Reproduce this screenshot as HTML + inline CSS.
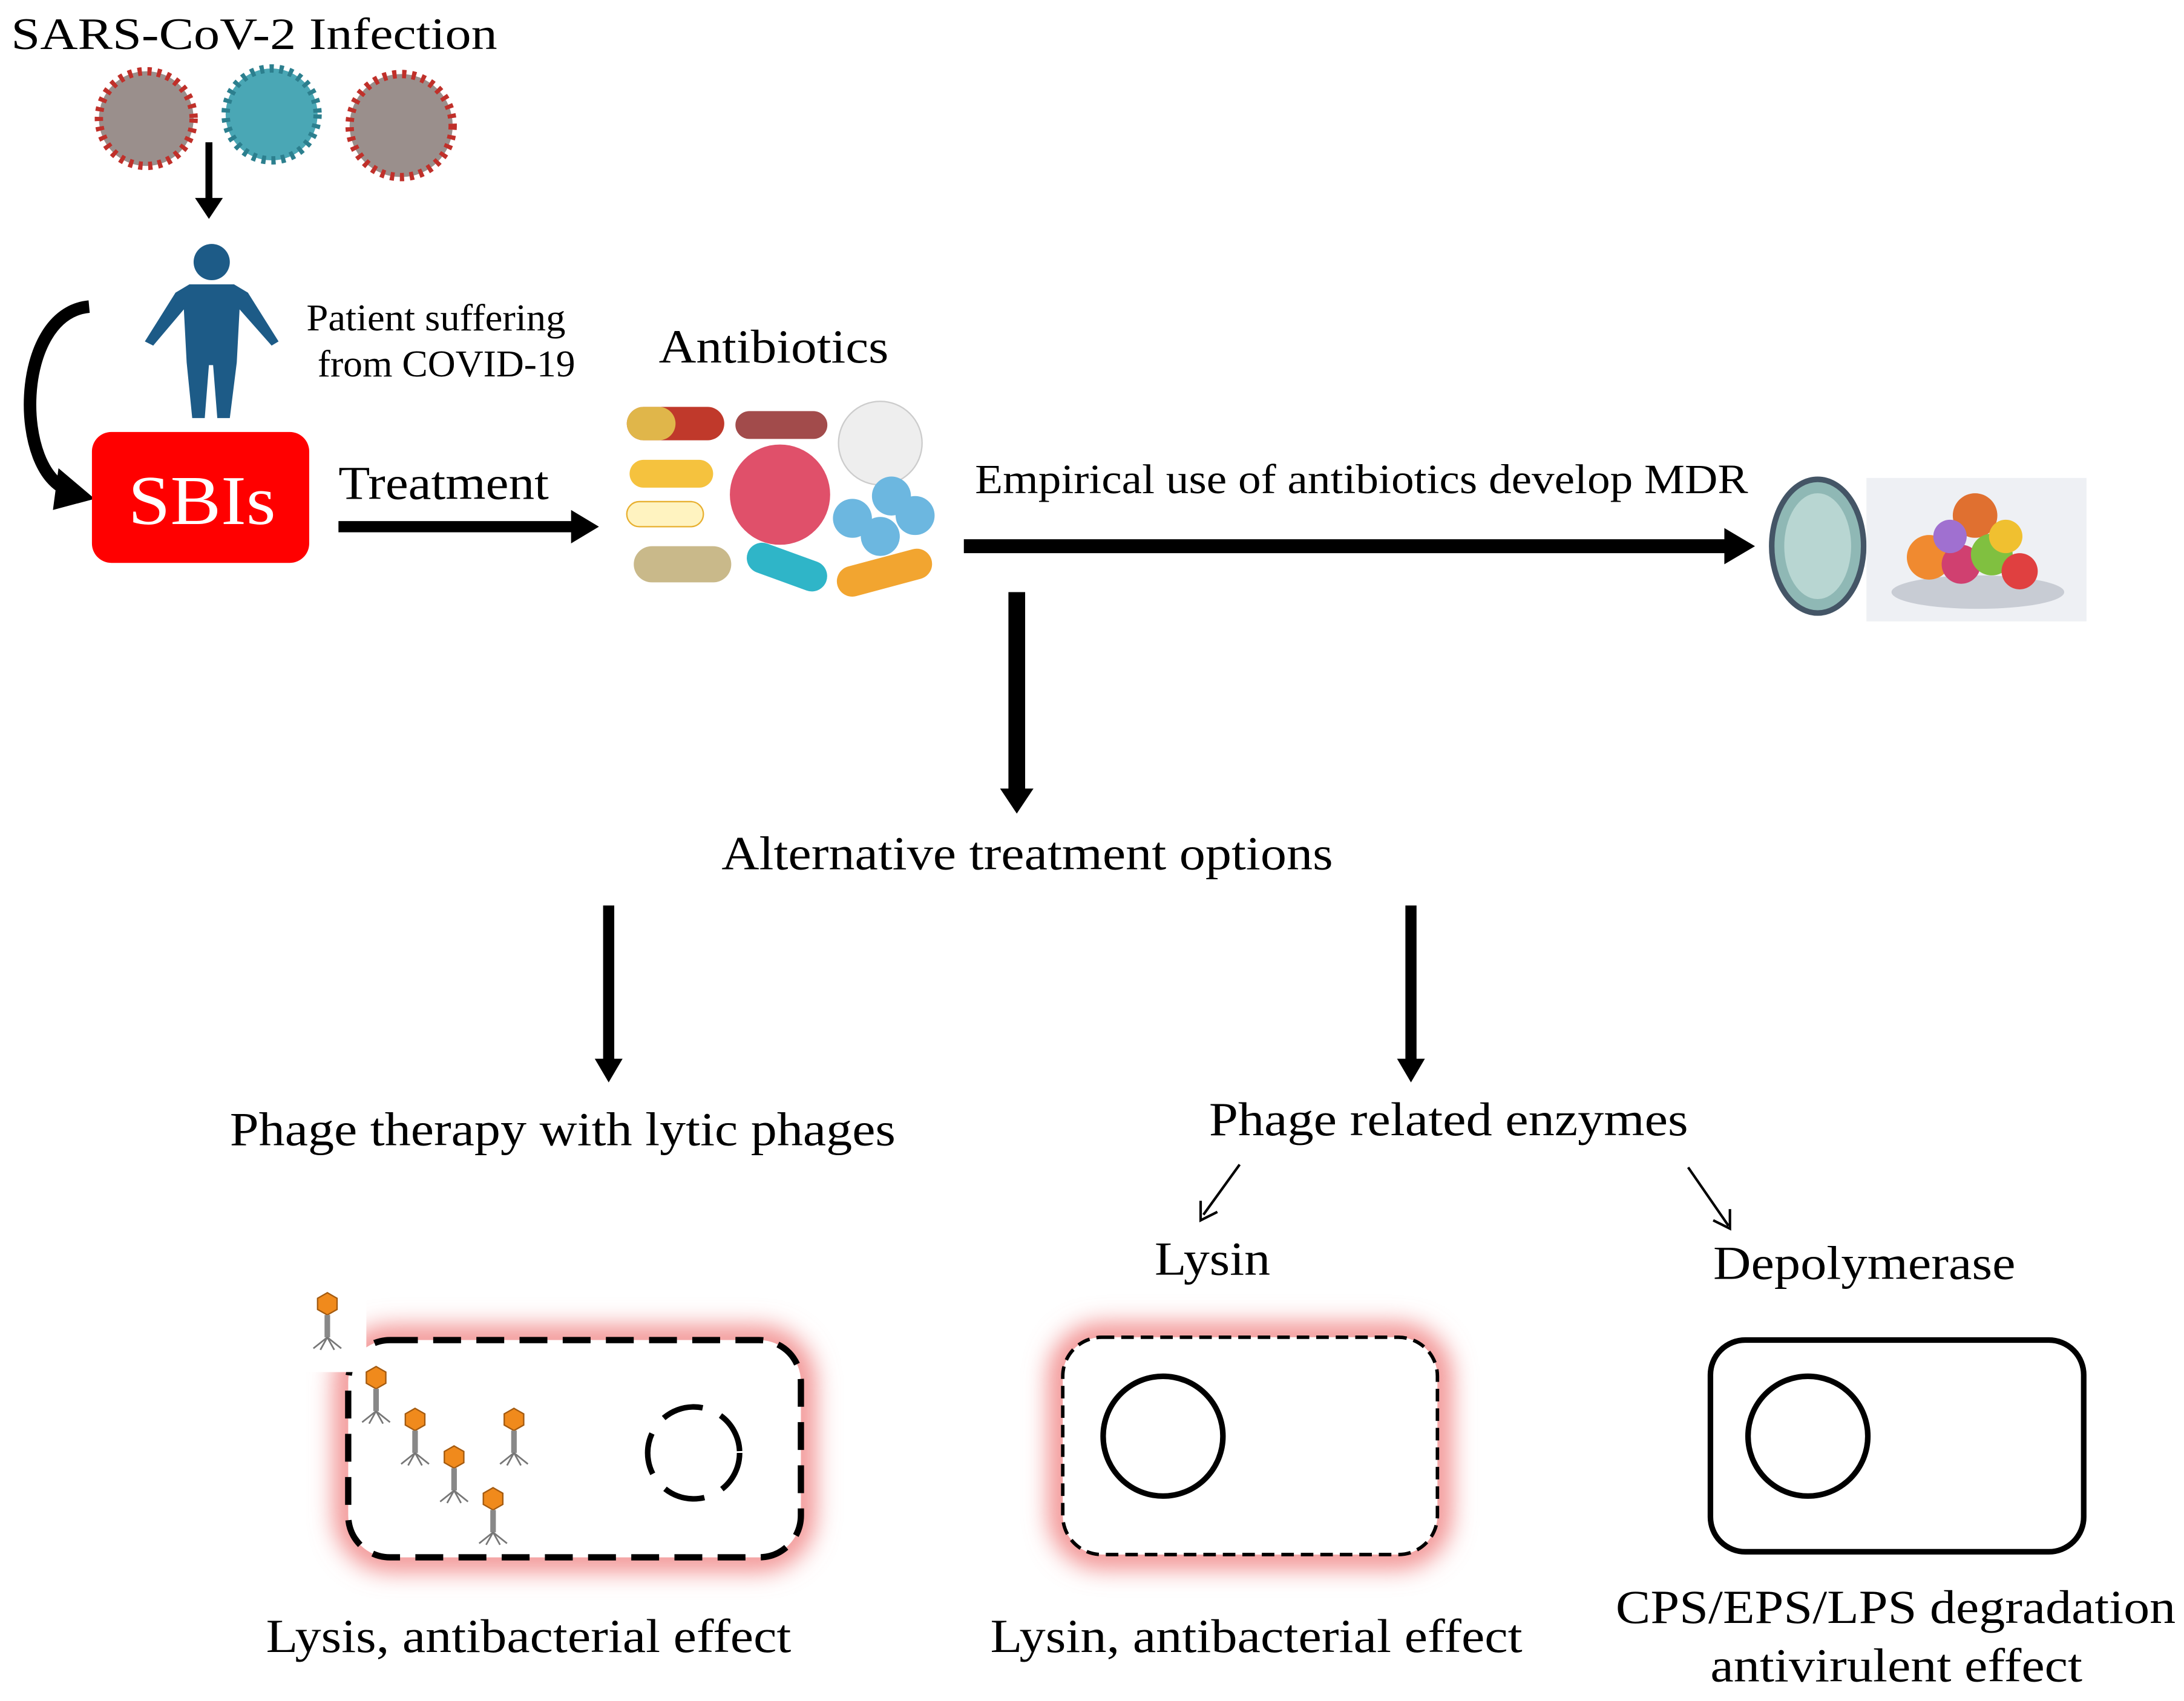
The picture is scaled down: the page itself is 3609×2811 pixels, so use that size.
<!DOCTYPE html>
<html><head><meta charset="utf-8"><style>
html,body{margin:0;padding:0;background:#fff;}
svg{display:block;}
text{font-family:"Liberation Serif",serif;fill:#000;}
</style></head><body>
<svg width="3609" height="2811" viewBox="0 0 1568 1221" xmlns="http://www.w3.org/2000/svg">
<defs>
<filter id="glow" x="-20%" y="-30%" width="140%" height="160%"><feGaussianBlur stdDeviation="9"/></filter>
<g id="phage">
 <polygon points="0,-14 7,-10 7,-2 0,2 -7,-2 -7,-10" fill="#f08a1c" stroke="#a35a10" stroke-width="1"/>
 <rect x="-2" y="2" width="4" height="16" fill="#888"/>
 <path d="M0,18 L-10,26 M0,18 L10,26 M0,18 L-5,27 M0,18 L5,27" stroke="#777" stroke-width="1.2" fill="none"/>
</g>
</defs>
<rect width="1568" height="1221" fill="#fff"/>

<text x="8" y="35" font-size="32" textLength="349" lengthAdjust="spacingAndGlyphs">SARS-CoV-2 Infection</text>
<circle cx="105" cy="85" r="34" fill="#9a8f8c" stroke="#c0302a" stroke-width="6" stroke-dasharray="3 4"/>
<circle cx="195" cy="82" r="33" fill="#4aa7b5" stroke="#2c7f8e" stroke-width="6" stroke-dasharray="3 4"/>
<circle cx="288" cy="90" r="37" fill="#9a8f8c" stroke="#c0302a" stroke-width="6" stroke-dasharray="3 4"/>
<line x1="150" y1="102" x2="150" y2="145" stroke="#000" stroke-width="5"/>
<path d="M140,142 L160,142 L150,157 z" fill="#000"/>

<g fill="#1d5b87">
 <circle cx="152" cy="188" r="13"/>
 <path d="M136,204 L168,204 L178,210 L200,245 L195,248 L172,222 L170,260 L165,300 L156,300 L153,262 L150,262 L147,300 L138,300 L134,260 L132,222 L110,248 L104,245 L126,210 z"/>
</g>
<text x="220" y="237" font-size="27" textLength="186" lengthAdjust="spacingAndGlyphs">Patient suffering</text>
<text x="228" y="270" font-size="27" textLength="185" lengthAdjust="spacingAndGlyphs">from COVID-19</text>

<path d="M64,220 C10,225 10,340 50,352" stroke="#000" stroke-width="9" fill="none"/>
<path d="M42,336 L68,358 L38,366 z" fill="#000"/>

<rect x="66" y="310" width="156" height="94" rx="14" fill="#ff0000"/>
<text x="92" y="376" font-size="50" textLength="106" lengthAdjust="spacingAndGlyphs" style="fill:#fff">SBIs</text>

<text x="243" y="358" font-size="34" textLength="151" lengthAdjust="spacingAndGlyphs">Treatment</text>
<line x1="243" y1="378" x2="412" y2="378" stroke="#000" stroke-width="8"/>
<path d="M410,366 L430,378 L410,390 z" fill="#000"/>

<text x="473" y="260" font-size="34" textLength="165" lengthAdjust="spacingAndGlyphs">Antibiotics</text>
<g>
 <rect x="450" y="292" width="70" height="24" rx="12" fill="#c0392b"/><rect x="450" y="292" width="35" height="24" rx="12" fill="#e0b64a"/>
 <rect x="528" y="295" width="66" height="20" rx="10" fill="#8b1e1e" opacity="0.8"/>
 <circle cx="632" cy="318" r="30" fill="#eeeeee" stroke="#ccc"/>
 <rect x="452" y="330" width="60" height="20" rx="10" fill="#f5c23e"/>
 <circle cx="560" cy="355" r="36" fill="#e0506a"/>
 <rect x="450" y="360" width="55" height="18" rx="9" fill="#fff3c0" stroke="#e8b030"/>
 <circle cx="612" cy="372" r="14" fill="#6cb7e0"/><circle cx="640" cy="356" r="14" fill="#6cb7e0"/><circle cx="657" cy="370" r="14" fill="#6cb7e0"/><circle cx="632" cy="385" r="14" fill="#6cb7e0"/>
 <rect x="455" y="392" width="70" height="26" rx="13" fill="#c9b98a"/>
 <rect x="535" y="396" width="60" height="22" rx="11" fill="#2fb5c8" transform="rotate(20 565 407)"/>
 <rect x="600" y="400" width="70" height="22" rx="11" fill="#f2a530" transform="rotate(-15 635 411)"/>
</g>

<text x="700" y="354" font-size="30" textLength="555" lengthAdjust="spacingAndGlyphs">Empirical use of antibiotics develop MDR</text>
<line x1="692" y1="392" x2="1240" y2="392" stroke="#000" stroke-width="10"/>
<path d="M1238,379 L1260,392 L1238,405 z" fill="#000"/>

<ellipse cx="1305" cy="392" rx="33" ry="48" fill="#8fb8b5" stroke="#456" stroke-width="4"/>
<ellipse cx="1305" cy="392" rx="24" ry="38" fill="#b8d6d2"/>
<rect x="1340" y="343" width="158" height="103" fill="#eef0f4"/>
<g>
 <ellipse cx="1420" cy="425" rx="62" ry="12" fill="#c8ccd4"/>
 <circle cx="1385" cy="400" r="16" fill="#f08a30"/><circle cx="1418" cy="370" r="16" fill="#e07030"/>
 <circle cx="1408" cy="405" r="14" fill="#d04070"/><circle cx="1430" cy="398" r="15" fill="#80c040"/>
 <circle cx="1450" cy="410" r="13" fill="#e04040"/><circle cx="1400" cy="385" r="12" fill="#a070d0"/>
 <circle cx="1440" cy="385" r="12" fill="#f0c030"/>
</g>

<line x1="730" y1="425" x2="730" y2="568" stroke="#000" stroke-width="12"/>
<path d="M718,566 L742,566 L730,584 z" fill="#000"/>
<text x="518" y="624" font-size="34" textLength="439" lengthAdjust="spacingAndGlyphs">Alternative treatment options</text>

<line x1="437" y1="650" x2="437" y2="762" stroke="#000" stroke-width="8"/>
<path d="M427,760 L447,760 L437,777 z" fill="#000"/>
<line x1="1013" y1="650" x2="1013" y2="762" stroke="#000" stroke-width="8"/>
<path d="M1003,760 L1023,760 L1013,777 z" fill="#000"/>

<text x="165" y="822" font-size="34" textLength="478" lengthAdjust="spacingAndGlyphs">Phage therapy with lytic phages</text>
<text x="868" y="815" font-size="34" textLength="344" lengthAdjust="spacingAndGlyphs">Phage related enzymes</text>
<line x1="890" y1="836" x2="864" y2="872" stroke="#000" stroke-width="1.8"/>
<path d="M862,862 L862,876 L874,870" stroke="#000" stroke-width="1.8" fill="none"/>
<line x1="1212" y1="838" x2="1241" y2="880" stroke="#000" stroke-width="1.8"/>
<path d="M1230,876 L1242,882 L1242,868" stroke="#000" stroke-width="1.8" fill="none"/>
<text x="829" y="915" font-size="34" textLength="83" lengthAdjust="spacingAndGlyphs">Lysin</text>
<text x="1230" y="918" font-size="34" textLength="217" lengthAdjust="spacingAndGlyphs">Depolymerase</text>

<rect x="250" y="962" width="325" height="156" rx="30" fill="none" stroke="#f08080" stroke-width="18" filter="url(#glow)"/>
<rect x="250" y="962" width="325" height="156" rx="30" fill="#fff" stroke="#000" stroke-width="4.5" stroke-dasharray="20 11"/>
<circle cx="498" cy="1043" r="33" fill="none" stroke="#000" stroke-width="4" stroke-dasharray="30 14"/>
<rect x="215" y="915" width="48" height="70" fill="#fff"/>
<use href="#phage" x="235" y="942"/>
<use href="#phage" x="270" y="995"/>
<use href="#phage" x="298" y="1025"/>
<use href="#phage" x="326" y="1052"/>
<use href="#phage" x="369" y="1025"/>
<use href="#phage" x="354" y="1082"/>

<rect x="763" y="960" width="269" height="156" rx="28" fill="none" stroke="#f08080" stroke-width="18" filter="url(#glow)"/>
<rect x="763" y="960" width="269" height="156" rx="28" fill="#fff" stroke="#000" stroke-width="2.5" stroke-dasharray="9 5"/>
<circle cx="835" cy="1031" r="43" fill="none" stroke="#000" stroke-width="4"/>

<rect x="1228" y="962" width="268" height="152" rx="25" fill="#fff" stroke="#000" stroke-width="4"/>
<circle cx="1298" cy="1031" r="43" fill="none" stroke="#000" stroke-width="4"/>

<text x="191" y="1186" font-size="34" textLength="377" lengthAdjust="spacingAndGlyphs">Lysis, antibacterial effect</text>
<text x="711" y="1186" font-size="34" textLength="382" lengthAdjust="spacingAndGlyphs">Lysin, antibacterial effect</text>
<text x="1160" y="1165" font-size="34" textLength="402" lengthAdjust="spacingAndGlyphs">CPS/EPS/LPS degradation</text>
<text x="1228" y="1207" font-size="34" textLength="267" lengthAdjust="spacingAndGlyphs">antivirulent effect</text>
</svg>
</body></html>
